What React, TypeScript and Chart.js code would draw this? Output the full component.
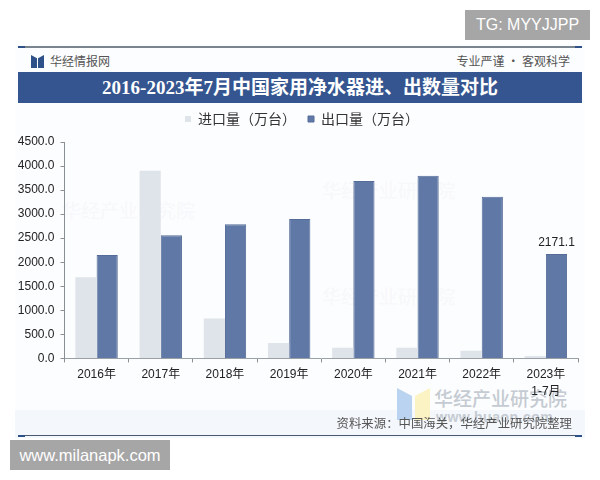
import React, { useRef, useEffect } from 'react';
import Chart from 'chart.js/auto';

const categories = ['2016年', '2017年', '2018年', '2019年', '2020年', '2021年', '2022年', ['2023年', '1-7月']];
const importValues = [1690, 3900, 830, 320, 220, 220, 160, 50];
const exportValues = [2150, 2560, 2790, 2900, 3690, 3800, 3360, 2171.1];
const yMax = 4500;
const yStep = 500;

const cjk = '"Noto Sans CJK SC", sans-serif';

// writes the value above the last export bar only, and nudges the legend
const lastLabelPlugin = {
  id: 'lastLabel',
  beforeInit(chart: any) {
    // more room under the legend than its horizontal padding would give
    const fit = chart.legend.fit;
    chart.legend.fit = function () {
      fit.bind(this)();
      this.height += 6;
    };
  },
  afterLayout(chart: any) {
    chart.legend.left += 10; // legend sits a little right of the plot centre
  },
  afterDatasetsDraw(chart: any) {
    const bar = chart.getDatasetMeta(1).data[exportValues.length - 1];
    const ctx = chart.ctx;
    ctx.save();
    ctx.font = '12px "Liberation Sans"';
    ctx.fillStyle = '#222';
    ctx.textAlign = 'center';
    ctx.textBaseline = 'bottom';
    ctx.fillText('2171.1', bar.x, bar.y - 5);
    ctx.restore();
  },
};

const abs = (left: number, top: number, width: number, height: number, extra: any = {}): any => ({
  position: 'absolute',
  left,
  top,
  width,
  height,
  ...extra,
});

const App = () => {
  const canvasRef = useRef<any>(null);
  const chartRef = useRef<any>(null);

  useEffect(() => {
    document.body.style.margin = '0';
    document.body.style.background = '#fff';
    if (chartRef.current) {
      chartRef.current.destroy();
    }
    chartRef.current = new Chart(canvasRef.current.getContext('2d'), {
      type: 'bar',
      data: {
        labels: categories as any,
        datasets: [
          { label: '进口量（万台）', data: importValues, backgroundColor: '#dfe3ea', borderWidth: 0 },
          { label: '出口量（万台）', data: exportValues, backgroundColor: '#5f78a6', borderColor: '#556c98', borderWidth: 1 },
        ],
      },
      options: {
        responsive: false,
        animation: false,
        devicePixelRatio: 1,
        layout: { padding: { top: 100, left: 16, right: 22, bottom: 76 } },
        datasets: { bar: { categoryPercentage: 0.66, barPercentage: 1 } },
        plugins: {
          tooltip: { enabled: false },
          legend: {
            position: 'top',
            labels: {
              boxWidth: 6,
              boxHeight: 6,
              padding: 12,
              color: '#333',
              font: { family: cjk, size: 14 },
            },
          },
        },
        scales: {
          x: {
            grid: { drawOnChartArea: false, color: '#8a8f96', tickLength: 4, offset: true },
            border: { color: '#9aa0a6' },
            ticks: {
              color: '#222',
              font: { family: '"Liberation Sans", ' + cjk, size: 12, lineHeight: 1.4 },
              maxRotation: 0,
              autoSkip: false,
              padding: 4,
            },
          },
          y: {
            min: 0,
            max: yMax,
            afterFit: (axis: any) => {
              axis.width = 48.5;
            },
            grid: { drawOnChartArea: false, color: '#8a8f96', tickLength: 4 },
            border: { color: '#8a8f96' },
            ticks: {
              stepSize: yStep,
              color: '#222',
              padding: 6,
              font: { family: '"Liberation Sans"', size: 12 },
              callback: (v: any) => Number(v).toFixed(1),
            },
          },
        },
      },
      plugins: [lastLabelPlugin],
    } as any);

    return () => {
      chartRef.current.destroy();
    };
  }, []);

  return (
    <div style={{ position: 'relative', width: 600, height: 480, overflow: 'hidden', background: '#fff', fontFamily: cjk }}>
      {/* panel background */}
      <div style={abs(15, 44, 570, 394, { background: '#fcfdfe' })} />
      <div style={abs(15, 410, 570, 28, { background: '#f4f7fb' })} />
      <div style={abs(18, 46, 564, 2, { background: '#7a848e' })} />
      <div style={abs(18, 46, 7, 2, { background: '#2f5189' })} />
      <div style={abs(575, 46, 7, 2, { background: '#2f5189' })} />
      <div style={abs(18, 435, 564, 1, { background: '#4a5a6e' })} />
      <div style={abs(18, 435, 7, 2, { background: '#2f5189' })} />
      <div style={abs(575, 435, 7, 2, { background: '#2f5189' })} />

      {/* faint marks behind the bars */}
      <div style={abs(62, 198, 150, 24, { fontSize: 19, lineHeight: '24px', color: '#f7f8fb' })}>华经产业研究院</div>
      <div style={abs(322, 178, 150, 24, { fontSize: 19, lineHeight: '24px', color: '#f7f8fb' })}>华经产业研究院</div>
      <div style={abs(322, 284, 150, 24, { fontSize: 19, lineHeight: '24px', color: '#f7f8fb' })}>华经产业研究院</div>

      {/* header row */}
      <div style={abs(31, 55, 6, 13, { background: '#2f5189', clipPath: 'polygon(0 0, 100% 25%, 100% 100%, 0 100%)' })} />
      <div style={abs(38, 55, 6, 13, { background: '#2f5189', clipPath: 'polygon(0 25%, 100% 0, 100% 100%, 0 100%)' })} />
      <div style={abs(50, 52, 100, 18, { fontSize: 12, lineHeight: '18px', color: '#555' })}>华经情报网</div>
      <div style={abs(440, 52, 130, 18, { fontSize: 12, lineHeight: '18px', color: '#555', textAlign: 'right' })}>专业严谨 • 客观科学</div>

      {/* title band */}
      <div style={abs(18, 72, 564, 31, { background: '#34558f' })} />
      <div style={abs(18, 72, 564, 31, { color: '#fff', fontFamily: '"Liberation Serif", "Noto Sans CJK SC"', fontWeight: 700, fontSize: 19, lineHeight: '31px', textAlign: 'center' })}>
        2016-2023年7月中国家用净水器进、出数量对比
      </div>

      {/* watermark */}
      <div style={abs(397, 388, 15, 32, { background: '#b9d3f0', clipPath: 'polygon(0 0, 100% 25%, 100% 100%, 0 100%)' })} />
      <div style={abs(415, 388, 15, 32, { background: '#fbf3c4', clipPath: 'polygon(0 25%, 100% 0, 100% 100%, 0 100%)' })} />
      <div style={abs(434, 384, 140, 28, { fontSize: 19, lineHeight: '28px', fontWeight: 500, color: '#c5cbd2' })}>华经产业研究院</div>
      <div style={abs(436, 409, 140, 16, { fontSize: 14, lineHeight: '16px', fontFamily: '"Liberation Sans"', fontWeight: 700, letterSpacing: 0.5, color: '#c5cbd2' })}>www.huaon.com</div>

      <canvas ref={canvasRef} width={600} height={480} style={{ position: 'absolute', left: 0, top: 0 }} />

      <div style={abs(300, 414, 272, 18, { fontSize: 12.4, lineHeight: '18px', color: '#555', textAlign: 'right', whiteSpace: 'nowrap' })}>资料来源：中国海关，华经产业研究院整理</div>

      {/* corner stamps */}
      <div style={abs(465, 10, 125, 30, { background: '#a6a6a6', color: '#fff', fontFamily: '"Liberation Sans"', fontSize: 16, lineHeight: '30px', textAlign: 'center' })}>TG: MYYJJPP</div>
      <div style={abs(10, 440, 160, 30, { background: '#a6a6a6', color: '#fff', fontFamily: '"Liberation Sans"', fontSize: 16.5, lineHeight: '30px', textAlign: 'center' })}>www.milanapk.com</div>
    </div>
  );
};

export default App;
